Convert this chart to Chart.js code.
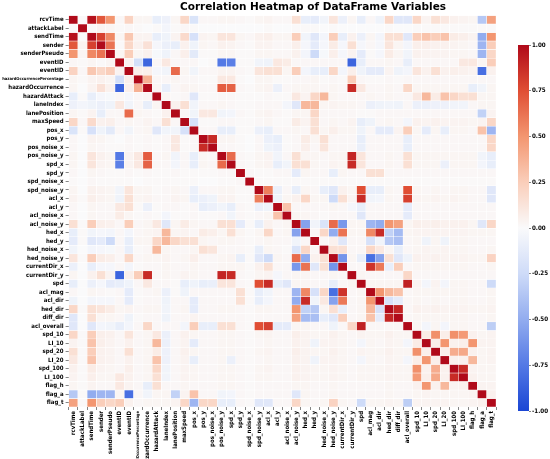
<!DOCTYPE html>
<html>
<head>
<meta charset="utf-8">
<script src="https://cdn.jsdelivr.net/npm/chart.js@4.4.1/dist/chart.umd.min.js"></script>
<style>
  html, body { margin: 0; padding: 0; background: #fff; }
  #wrap { position: relative; width: 550px; height: 459px; }
  #heat { position: absolute; left: 0; top: 0; }
  #cbar { position: absolute; left: 509px; top: 39px; }
</style>
</head>
<body>
<div id="wrap">
  <canvas id="heat" width="550" height="459"></canvas>
  <canvas id="cbar" width="41" height="378"></canvas>
</div>
<script>
// variable names (same order on both axes)
const labels = [
  'rcvTime', 'attackLabel', 'sendTime', 'sender', 'senderPseudo', 'eventID', 'eventID',
  'hazardOccurrencePercentage', 'hazardOccurrence', 'hazardAttack', 'laneIndex', 'lanePosition',
  'maxSpeed', 'pos_x', 'pos_y', 'pos_noise_x', 'pos_noise_y', 'spd_x', 'spd_y', 'spd_noise_x',
  'spd_noise_y', 'acl_x', 'acl_y', 'acl_noise_x', 'acl_noise_y', 'hed_x', 'hed_y', 'hed_noise_x',
  'hed_noise_y', 'currentDir_x', 'currentDir_y', 'spd', 'acl_mag', 'acl_dir', 'hed_dir', 'diff_dir',
  'acl_overall', 'spd_10', 'LI_10', 'spd_20', 'LI_20', 'spd_100', 'LI_100', 'flag_h', 'flag_a', 'flag_t'
];

// lower triangle of the correlation matrix, row i holds columns 0..i
const lowerTriangle = [
  [1],
  [0.01, 1],
  [0.97, 0.01, 1],
  [0.72, 0.04, 0.8, 1],
  [0.5, 0.03, 0.55, 0.62, 1],
  [0.02, 0.01, 0.03, 0.01, 0.03, 1],
  [0.22, 0.02, 0.28, 0.2, 0.25, 0.04, 1],
  [0.03, 0.01, 0.04, 0.05, 0.03, -0.22, 0.06, 1],
  [0.03, 0.0, 0.04, 0.14, 0.05, -0.85, 0.06, 0.38, 1],
  [-0.1, 0.01, -0.1, -0.03, -0.02, 0.02, -0.03, 0.02, 0.03, 1],
  [-0.07, -0.04, -0.06, -0.08, -0.06, 0.1, -0.05, 0.02, -0.1, 0.03, 1],
  [0.03, 0.01, 0.04, -0.1, 0.02, 0.02, 0.65, 0.03, 0.02, 0.01, 0.05, 1],
  [0.2, 0.02, 0.18, 0.05, 0.06, 0.02, 0.03, 0.02, 0.04, 0.02, 0.15, 0.02, 1],
  [-0.18, 0.01, -0.2, -0.06, -0.13, 0.02, -0.05, 0.02, 0.03, -0.15, -0.05, -0.05, -0.2, 1],
  [0.02, 0.0, 0.04, 0.03, 0.01, 0.0, 0.02, 0.01, 0.02, 0.01, 0.02, 0.1, 0.01, 0.02, 1],
  [0.02, 0.0, 0.03, 0.02, 0.01, 0.01, 0.02, 0.01, 0.02, 0.01, 0.02, 0.1, 0.01, 0.02, 0.88, 1],
  [0.03, 0.0, 0.12, 0.05, 0.03, -0.75, 0.04, 0.1, 0.7, 0.02, 0.03, -0.05, 0.02, -0.1, 0.03, 0.02, 1],
  [0.03, 0.0, 0.12, 0.04, 0.03, -0.72, 0.04, 0.1, 0.68, 0.02, 0.02, -0.04, 0.02, -0.1, 0.03, 0.02, 0.65, 1],
  [0.02, 0.0, 0.03, 0.02, 0.01, 0.01, 0.02, 0.01, 0.02, 0.01, 0.01, 0.02, 0.01, 0.01, 0.01, 0.01, 0.02, 0.02, 1],
  [0.01, 0.0, 0.02, 0.01, 0.01, 0.01, 0.01, 0.0, 0.01, 0.01, 0.01, 0.01, 0.01, 0.01, 0.0, 0.0, 0.01, 0.01, 0.02, 1],
  [0.03, 0.0, 0.05, 0.04, 0.03, -0.05, 0.12, 0.03, 0.03, 0.01, 0.02, 0.03, 0.02, -0.08, 0.02, 0.02, 0.03, 0.03, 0.01, 0.01, 1],
  [0.04, 0.01, 0.06, 0.04, 0.03, -0.06, 0.15, 0.03, 0.04, 0.02, 0.02, 0.04, 0.03, -0.1, -0.08, -0.06, 0.04, 0.04, 0.01, 0.01, 0.58, 1],
  [0.02, 0.0, 0.03, 0.02, 0.02, 0.1, 0.15, 0.01, -0.08, 0.01, 0.02, 0.02, 0.01, 0.02, -0.1, -0.08, -0.05, -0.1, 0.02, 0.01, -0.08, -0.06, 1],
  [0.02, 0.0, 0.03, 0.02, 0.02, 0.08, 0.03, 0.01, 0.02, 0.01, -0.04, 0.01, 0.01, 0.02, 0.01, 0.01, 0.02, -0.05, 0.02, 0.01, 0.02, 0.03, 0.3, 1],
  [0.15, 0.01, 0.25, 0.06, 0.05, 0.02, 0.25, 0.02, 0.03, 0.1, -0.15, 0.03, 0.08, 0.03, 0.02, 0.02, 0.15, 0.15, -0.12, 0.01, -0.1, 0.05, 0.02, 0.03, 1],
  [-0.1, 0.01, -0.05, -0.03, -0.04, 0.02, -0.04, 0.02, 0.03, 0.04, 0.35, 0.03, 0.04, 0.02, 0.08, 0.06, 0.03, 0.15, 0.03, 0.01, 0.03, 0.2, 0.02, 0.03, -0.55, 1],
  [-0.12, 0.01, -0.15, -0.12, -0.25, 0.02, -0.1, 0.03, 0.03, 0.2, 0.35, 0.2, 0.15, 0.15, 0.03, 0.02, 0.03, 0.03, 0.02, 0.01, 0.02, 0.03, 0.02, 0.02, -0.05, 0.02, 1],
  [-0.05, 0.0, -0.04, -0.03, -0.02, 0.02, -0.1, 0.01, 0.02, 0.35, 0.03, 0.02, 0.02, 0.03, 0.15, 0.12, 0.02, 0.02, 0.02, 0.01, -0.1, 0.03, 0.02, 0.01, -0.18, 0.2, 0.02, 1],
  [0.12, 0.01, 0.25, 0.08, 0.06, 0.02, 0.2, 0.02, 0.03, 0.03, 0.04, 0.02, 0.03, 0.06, 0.02, 0.02, 0.03, 0.04, -0.1, 0.01, -0.15, -0.25, 0.03, 0.02, 0.65, -0.5, 0.05, 0.15, 1],
  [-0.08, 0.0, -0.1, -0.03, -0.03, 0.02, -0.04, 0.01, 0.02, 0.02, 0.03, 0.02, 0.02, 0.03, 0.02, 0.02, 0.03, 0.03, 0.03, 0.01, 0.05, 0.15, 0.02, 0.02, -0.6, 0.62, -0.15, 0.15, -0.62, 1],
  [0.03, 0.0, 0.05, 0.15, 0.04, -0.85, 0.06, 0.25, 0.88, 0.02, 0.03, 0.02, 0.04, 0.03, 0.02, 0.02, 0.9, 0.88, 0.02, 0.01, 0.03, 0.04, -0.03, 0.02, 0.03, 0.03, 0.02, 0.02, 0.03, 0.02, 1],
  [-0.1, 0.0, -0.08, -0.03, -0.12, -0.1, -0.06, 0.02, 0.1, 0.02, 0.02, 0.01, -0.1, -0.06, -0.1, -0.09, 0.12, 0.12, 0.02, 0.01, 0.75, 0.88, -0.1, -0.15, 0.03, 0.03, 0.02, 0.02, -0.1, 0.02, 0.03, 1],
  [0.02, 0.0, 0.03, 0.02, 0.01, 0.02, -0.12, 0.01, 0.02, 0.03, -0.08, 0.01, -0.06, 0.02, 0.02, 0.02, 0.02, 0.02, 0.15, 0.01, -0.1, -0.05, 0.02, 0.02, -0.45, 0.55, -0.2, 0.2, -0.8, 0.85, 0.02, 0.03, 1],
  [-0.06, 0.0, -0.04, -0.03, -0.03, 0.02, -0.12, 0.01, 0.02, 0.02, -0.06, 0.02, 0.02, -0.12, 0.02, 0.02, 0.02, 0.02, 0.15, 0.01, -0.1, -0.04, 0.02, 0.02, -0.5, 0.88, -0.05, 0.1, -0.55, 0.6, 0.02, 0.03, 0.5, 1],
  [0.2, 0.01, 0.15, 0.12, 0.08, 0.03, 0.04, 0.02, 0.03, 0.03, -0.05, 0.02, 0.03, -0.12, 0.02, 0.02, 0.03, 0.03, 0.02, 0.01, 0.03, 0.03, 0.02, 0.02, 0.5, -0.3, -0.35, 0.03, 0.15, -0.1, 0.02, 0.03, 0.35, -0.2, 1],
  [-0.15, 0.0, 0.15, 0.03, 0.03, 0.02, -0.06, 0.01, 0.02, 0.02, -0.06, 0.02, 0.02, 0.04, 0.02, 0.02, 0.02, 0.02, 0.02, 0.01, 0.02, 0.02, 0.02, 0.02, 0.45, -0.42, -0.4, -0.1, -0.15, 0.25, 0.02, 0.03, 0.3, -0.12, 0.9, 1],
  [-0.15, 0.0, -0.15, -0.04, -0.05, -0.1, -0.04, 0.02, 0.2, 0.02, 0.02, 0.02, -0.04, 0.25, -0.1, -0.1, 0.15, 0.15, 0.02, 0.01, 0.75, 0.8, -0.12, -0.12, 0.03, 0.03, 0.02, 0.02, -0.06, 0.02, 0.2, 0.92, 0.02, 0.02, 0.02, 0.02, 1],
  [0.2, 0.01, 0.25, 0.06, 0.05, 0.02, 0.12, 0.02, 0.03, 0.1, -0.08, 0.02, 0.05, 0.03, 0.02, 0.02, 0.03, 0.03, 0.02, 0.01, 0.03, 0.04, 0.02, 0.02, 0.06, 0.04, 0.03, 0.03, 0.05, 0.03, 0.02, 0.04, 0.03, 0.03, 0.05, 0.03, 0.03, 1],
  [0.04, 0.01, 0.3, 0.06, 0.04, 0.02, 0.05, 0.02, 0.03, 0.35, -0.08, 0.02, 0.04, -0.12, 0.02, 0.02, 0.03, 0.03, 0.02, 0.01, 0.02, 0.03, 0.02, 0.02, 0.05, 0.04, -0.06, 0.04, 0.04, 0.03, 0.02, -0.04, 0.03, 0.02, 0.04, 0.03, -0.04, 0.08, 1],
  [0.15, 0.01, 0.25, 0.05, 0.04, 0.02, 0.15, 0.02, 0.03, 0.08, -0.07, 0.02, 0.05, 0.03, 0.02, 0.02, 0.03, 0.03, 0.02, 0.01, 0.03, 0.04, 0.02, 0.02, 0.06, 0.04, 0.03, 0.03, 0.05, 0.03, 0.02, 0.04, 0.03, 0.03, 0.05, 0.03, 0.03, 0.52, 0.06, 1],
  [0.1, 0.01, 0.3, 0.05, 0.04, 0.02, 0.05, 0.02, 0.03, 0.3, -0.07, 0.02, 0.04, -0.1, 0.02, 0.02, 0.03, -0.08, 0.02, 0.01, 0.02, 0.03, 0.02, 0.02, 0.05, 0.04, -0.06, 0.04, 0.04, 0.03, 0.02, -0.04, 0.03, 0.02, 0.04, 0.03, -0.04, 0.07, 0.5, 0.06, 1],
  [0.05, 0.01, 0.08, 0.04, 0.03, 0.02, 0.06, 0.02, 0.03, 0.2, -0.05, 0.02, 0.04, 0.03, 0.02, 0.02, 0.03, 0.03, 0.02, 0.01, 0.03, 0.04, 0.02, 0.02, 0.05, 0.04, 0.03, 0.03, 0.04, 0.03, 0.02, 0.03, 0.03, 0.03, 0.04, 0.03, 0.03, 0.52, 0.05, 0.4, 0.05, 1],
  [0.04, 0.01, 0.06, 0.03, 0.03, 0.1, 0.05, 0.02, 0.03, 0.15, -0.05, 0.02, 0.04, 0.03, 0.02, 0.02, 0.03, 0.03, 0.02, 0.01, 0.03, 0.03, 0.02, 0.02, 0.05, 0.04, 0.03, 0.03, 0.04, 0.03, 0.02, 0.03, 0.03, 0.03, 0.04, 0.03, 0.03, 0.48, 0.06, 0.42, 0.05, 0.88, 1],
  [0.03, 0.01, 0.04, 0.02, 0.02, 0.1, 0.04, 0.02, -0.1, 0.15, 0.02, 0.02, 0.03, 0.02, 0.02, 0.02, 0.03, 0.03, 0.02, 0.01, 0.02, 0.02, 0.02, 0.02, 0.03, 0.03, 0.02, 0.02, 0.03, 0.02, 0.02, 0.02, 0.02, 0.02, 0.03, 0.02, 0.02, 0.05, 0.5, 0.05, 0.35, 0.04, 0.05, 1],
  [-0.35, 0.01, -0.5, -0.45, -0.45, 0.03, -0.8, 0.02, -0.05, 0.03, 0.03, -0.3, 0.04, 0.3, 0.02, 0.02, -0.05, -0.04, 0.02, 0.01, 0.02, 0.02, 0.02, 0.02, -0.15, 0.03, 0.02, 0.02, 0.03, 0.02, 0.02, 0.02, 0.02, 0.02, 0.03, 0.02, 0.02, 0.03, 0.04, 0.03, 0.03, 0.03, 0.03, 0.04, 1],
  [0.45, 0.01, 0.5, 0.25, 0.2, 0.25, 0.05, 0.02, 0.03, 0.03, 0.03, 0.04, 0.2, -0.45, 0.2, 0.2, -0.1, -0.1, 0.02, 0.01, -0.15, -0.15, 0.02, 0.02, 0.2, 0.03, 0.02, 0.03, 0.22, 0.03, 0.02, -0.25, 0.03, 0.03, 0.04, 0.03, -0.32, 0.04, 0.04, 0.04, 0.04, 0.03, 0.03, 0.04, 0.05, 1]
];

// colorbar ticks
const cbarTicks = [1, 0.75, 0.5, 0.25, 0, -0.25, -0.5, -0.75, -1];

// diverging palette, blue -> white -> red
const colorStops = [
  [-1.0, [26, 70, 212]],
  [-0.75, [84, 121, 229]],
  [-0.5, [146, 172, 239]],
  [-0.25, [206, 219, 248]],
  [0.0, [250, 250, 251]],
  [0.25, [250, 206, 186]],
  [0.5, [243, 150, 112]],
  [0.75, [224, 78, 52]],
  [1.0, [176, 10, 26]]
];

function colorFor(v) {
  v = Math.max(-1, Math.min(1, v));
  for (let k = 1; k < colorStops.length; k++) {
    const [v1, c1] = colorStops[k];
    const [v0, c0] = colorStops[k - 1];
    if (v <= v1) {
      const t = (v - v0) / (v1 - v0);
      const c = c0.map((ch, m) => Math.round(ch + (c1[m] - ch) * t));
      return `rgb(${c[0]},${c[1]},${c[2]})`;
    }
  }
  return 'rgb(176,10,26)';
}

const n = labels.length;
// mirror the triangle into the full symmetric matrix
const corr = labels.map((_, i) => labels.map((_, j) => (i >= j ? lowerTriangle[i][j] : lowerTriangle[j][i])));

const labelFont = 'DejaVu Sans Condensed, DejaVu Sans, sans-serif';
function tickFont(ctx) {
  const name = labels[ctx.index] || '';
  return { family: labelFont, weight: 'bold', size: name.length > 20 ? 4.1 : 6 };
}

// title sits over the whole figure, not just the cells
const figureTitle = {
  id: 'figureTitle',
  afterDraw(chart) {
    const c = chart.ctx;
    c.save();
    c.fillStyle = '#000';
    c.font = 'bold 10.5px "DejaVu Sans"';
    c.textAlign = 'center';
    c.textBaseline = 'middle';
    c.fillText('Correlation Heatmap of DataFrame Variables', 313, 7.5);
    c.restore();
  }
};

// one stacked dataset per row, each cell is one unit tall
const datasets = corr.map((row, i) => ({
  label: labels[i],
  data: row.map(() => 1),
  backgroundColor: row.map(v => colorFor(v)),
  borderColor: '#ffffff',
  borderWidth: 0.5,
  borderSkipped: false,
  barPercentage: 1,
  categoryPercentage: 1
}));

new Chart(document.getElementById('heat'), {
  type: 'bar',
  data: { labels: labels, datasets: datasets },
  plugins: [figureTitle],
  options: {
    responsive: false,
    animation: false,
    layout: { padding: { left: 0, right: 54, top: 15.5, bottom: 0 } },
    plugins: {
      legend: { display: false },
      tooltip: { enabled: false }
    },
    scales: {
      x: {
        stacked: true,
        ticks: {
          autoSkip: false, maxRotation: 90, minRotation: 90,
          color: '#000', padding: 1, font: tickFont
        },
        grid: { drawOnChartArea: false, tickLength: 3, color: '#333', lineWidth: 0.6 },
        border: { display: false },
        afterFit: s => { s.height = 52; }
      },
      y: {
        stacked: true,
        min: 0, max: n, reverse: true,
        afterBuildTicks: s => { s.ticks = labels.map((_, i) => ({ value: i + 0.5 })); },
        ticks: {
          autoSkip: false, color: '#000', padding: 2, font: tickFont,
          callback: v => labels[Math.floor(v)]
        },
        grid: { drawOnChartArea: false, tickLength: 3, color: '#333', lineWidth: 0.6 },
        border: { display: false },
        afterFit: s => { s.width = 68.6; }
      }
    }
  }
});

// colorbar: one floating bar filled with the palette
new Chart(document.getElementById('cbar'), {
  type: 'bar',
  data: {
    labels: ['corr'],
    datasets: [{
      data: [[-1, 1]],
      barPercentage: 1,
      categoryPercentage: 1,
      backgroundColor: ctx => {
        const area = ctx.chart.chartArea;
        if (!area) return 'rgba(0,0,0,0)';
        const g = ctx.chart.ctx.createLinearGradient(0, area.bottom, 0, area.top);
        colorStops.forEach(([v]) => g.addColorStop((v + 1) / 2, colorFor(v)));
        return g;
      }
    }]
  },
  options: {
    responsive: false,
    animation: false,
    layout: { padding: { left: 9, right: 0, top: 6, bottom: 6 } },
    plugins: { legend: { display: false }, tooltip: { enabled: false } },
    scales: {
      x: { display: false },
      y: {
        position: 'right',
        min: -1, max: 1,
        afterBuildTicks: s => { s.ticks = cbarTicks.map(v => ({ value: v })); },
        ticks: { color: '#000', padding: 1, font: { family: labelFont, weight: 'bold', size: 6.2 }, callback: v => v.toFixed(2) },
        grid: { drawOnChartArea: false, tickLength: 2, color: '#333', lineWidth: 0.6 },
        border: { display: false },
        afterFit: s => { s.width = 21; }
      }
    }
  }
});
</script>
</body>
</html>
